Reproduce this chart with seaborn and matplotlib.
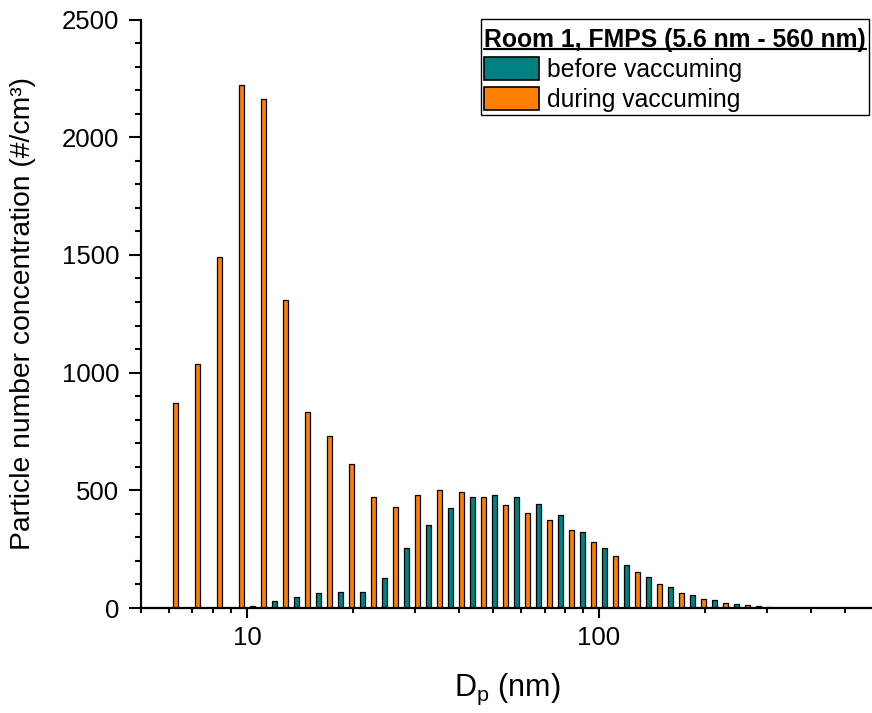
import numpy as np
import pandas as pd
import matplotlib
matplotlib.use("Agg")
import matplotlib.pyplot as plt
import seaborn as sns
from matplotlib.patches import Patch, Rectangle
from matplotlib.lines import Line2D
from matplotlib.ticker import (MultipleLocator, LogLocator, NullFormatter,
                               FixedLocator, FixedFormatter)

# ---------------- data ----------------
dp_nm = [6.494, 7.499, 8.660, 10.00, 11.55, 13.34, 15.40, 17.78, 20.54, 23.71,
         27.38, 31.62, 36.52, 42.17, 48.70, 56.23, 64.94, 74.99, 86.60, 100.0,
         115.5, 133.4, 154.0, 177.8, 205.4, 237.1, 273.8, 316.2, 365.2, 421.7,
         487.0, 562.3]
before_vac = [0, 0, 0, 9, 31, 48, 62, 69, 69, 129,
              253, 354, 426, 471, 481, 473, 442, 393, 323, 253,
              184, 130, 88, 55, 33, 16, 8, 2, 1, 0,
              0, 0]
during_vac = [869, 1038, 1490, 2223, 2162, 1309, 831, 731, 611, 471,
              427, 480, 501, 494, 473, 437, 405, 374, 333, 280,
              221, 153, 100, 62, 37, 20, 11, 3, 1, 0,
              0, 0]
series_names = ["before vaccuming", "during vaccuming"]
legend_title = "Room 1, FMPS (5.6 nm - 560 nm)"
x_ticks = [10, 100]
x_tick_labels = ["10", "100"]
y_label = "Particle number concentration (#/cm³)"
x_label = "D$_\\mathregular{p}$ (nm)"

colors = {"before vaccuming": "#008080", "during vaccuming": "#FF8000"}

df = pd.concat([
    pd.DataFrame({"dp": dp_nm, "conc": before_vac, "series": series_names[0]}),
    pd.DataFrame({"dp": dp_nm, "conc": during_vac, "series": series_names[1]}),
], ignore_index=True)

# ---------------- style ----------------
sns.set_theme(style="ticks")
plt.rcParams["font.family"] = ["Liberation Sans", "DejaVu Sans"]
plt.rcParams["mathtext.fontset"] = "custom"
plt.rcParams["mathtext.rm"] = "Liberation Sans"
plt.rcParams["mathtext.it"] = "Liberation Sans:italic"
plt.rcParams["mathtext.bf"] = "Liberation Sans:bold"

W, H = 872, 713
fig = plt.figure(figsize=(W / 100, H / 100), dpi=100)
ax = fig.add_axes([141 / W, 1 - 608 / H, 732 / W, 588.5 / H])

sns.barplot(data=df, x="dp", y="conc", hue="series",
            hue_order=[series_names[1], series_names[0]],
            palette=colors, saturation=1, native_scale=True,
            log_scale=(True, False), orient="x", width=1.0, gap=0.55,
            errorbar=None, edgecolor="black", linewidth=0.9, legend=False,
            ax=ax)

ax.set_xlim(5, 600)
ax.set_ylim(0, 2500)

ax.xaxis.set_major_locator(FixedLocator(x_ticks))
ax.xaxis.set_major_formatter(FixedFormatter(x_tick_labels))
ax.xaxis.set_minor_locator(LogLocator(base=10, subs=np.arange(2, 10), numticks=30))
ax.xaxis.set_minor_formatter(NullFormatter())
ax.yaxis.set_major_locator(MultipleLocator(500))
ax.yaxis.set_minor_locator(MultipleLocator(100))

ax.tick_params(axis="both", which="both", direction="out", color="black",
               labelcolor="black", width=1.5)
ax.tick_params(axis="y", which="major", length=8.6, labelsize=18.5, pad=7)
ax.tick_params(axis="y", which="minor", length=4.6)
ax.tick_params(axis="x", which="major", length=7.2, labelsize=18.5, pad=6)
ax.tick_params(axis="x", which="minor", length=3.6)

for s in ["top", "right"]:
    ax.spines[s].set_visible(False)
for s in ["left", "bottom"]:
    ax.spines[s].set_linewidth(1.6)
    ax.spines[s].set_color("black")

ax.set_ylabel(y_label, fontsize=20.3, color="black")
ax.yaxis.set_label_coords(-0.1435, 0.5)
ax.set_xlabel(x_label, fontsize=22, color="black")
ax.xaxis.set_label_coords(0.5, -0.108)

handles = [Patch(facecolor=colors[n], edgecolor="black", linewidth=1.2)
           for n in series_names]
leg = ax.legend(handles, series_names, title=legend_title,
                loc="upper left", bbox_to_anchor=(484 / W, 1 - 28 / H),
                bbox_transform=fig.transFigure, frameon=False,
                fontsize=17.8,
                title_fontproperties={"weight": "bold", "size": 17.8},
                alignment="left", borderpad=0, handlelength=2.22,
                handleheight=1.08, handletextpad=0.33, labelspacing=0.2,
                borderaxespad=0)
for t in leg.get_texts():
    t.set_color("black")
leg.get_title().set_color("black")

fig.canvas.draw()
inv = fig.transFigure.inverted()
# underline of the legend title
tb = leg.get_title().get_window_extent()
ux0, uy = inv.transform((tb.x0, tb.y0 + 3))
ux1, _ = inv.transform((tb.x1, tb.y0 + 3))
fig.add_artist(Line2D([ux0, ux1], [uy, uy], transform=fig.transFigure,
                      color="black", lw=1.6))
# legend frame with Origin-like padding
lb = leg.get_window_extent()
fx0, fy0 = inv.transform((lb.x0 - 3, lb.y0 - 3))
fx1, fy1 = inv.transform((lb.x1 + 3, lb.y1 + 8.7))
fig.add_artist(Rectangle((fx0, fy0), fx1 - fx0, fy1 - fy0,
                         transform=fig.transFigure, facecolor="none",
                         edgecolor="black", lw=1.0, zorder=10))

fig.savefig("out.png", dpi=100)
